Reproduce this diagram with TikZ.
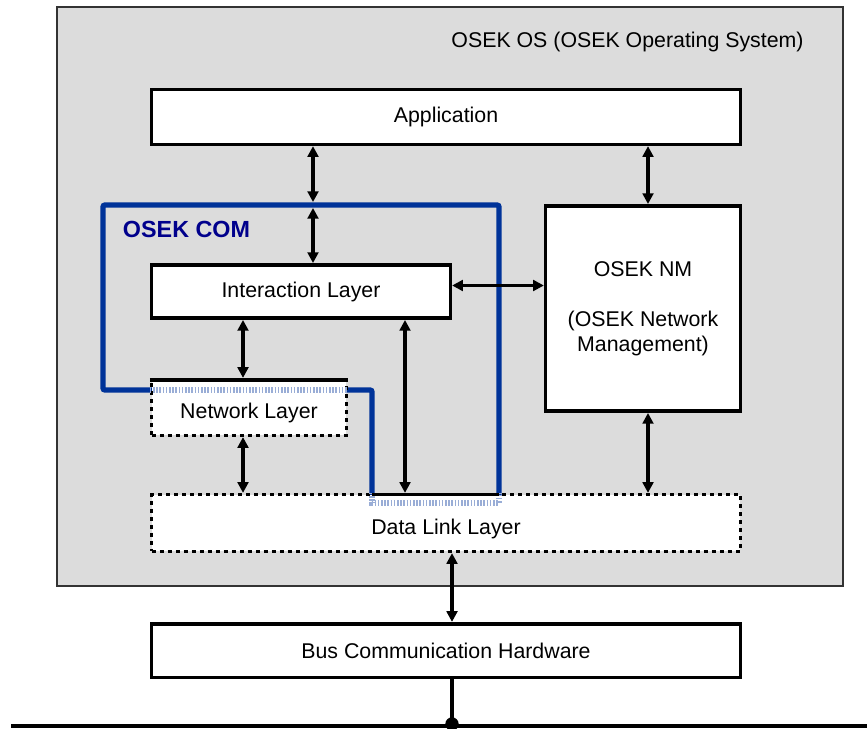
\documentclass[tikz,border=0pt]{standalone}
\usepackage{fontspec}
\setmainfont{Liberation Sans}
\usetikzlibrary{arrows.meta}
\definecolor{osgray}{RGB}{220,220,220}
\definecolor{comblue}{RGB}{0,51,153}
\definecolor{comtext}{RGB}{0,0,140}

\begin{document}
\begin{tikzpicture}[x=0.75pt, y=-0.75pt,
    box/.style={draw, line width=2.7pt, fill=white, inner sep=0pt,
    font=\fontsize{16}{18.75}\selectfont},
    dotbox/.style={box, dash pattern=on 3pt off 3pt, text height=20.5pt},
    com/.style={draw=comblue, line width=4pt, rounded corners=1.5pt},
    comfaint/.style={draw=comblue!40, line width=4pt, dash pattern=on 1.2pt off 1.2pt},
    link/.style={line width=2.3pt}, >={Triangle[length=8pt,width=8pt]}]
    \useasboundingbox (0,0) rectangle (867,728);
    \draw[draw=black!80, line width=1.2pt, fill=osgray] (57,7) rectangle (843,586);
    \node[font=\fontsize{16}{18.75}\selectfont] (OS) at (627.5,42) {OSEK OS (OSEK Operating System)};
    \coordinate (comNW) at (103,205);
    \coordinate (comNE) at (499,205);
    \coordinate (comSE) at (499,503);
    \coordinate (comS) at (372,503);
    \coordinate (comM) at (372,390);
    \coordinate (comW) at (103,390);
    \coordinate (COMtop) at (313,205);
    \draw[com] (comNW) -- (comNE) -- (comSE) -- (comS) -- (comM) -- (comW) -- cycle;
    \node[font=\fontsize{17.5}{20}\selectfont\bfseries, text=comtext] (COM) at (186.5,229) {OSEK COM};
    \node[box, minimum width=441.5pt, minimum height=41pt] (App) at (446,117) {Application};
    \node[box, minimum width=224pt, minimum height=40pt] (IL) at (301,291.5) {Interaction Layer};
    \node[box, minimum width=146pt, minimum height=154pt, align=center] (NM) at (643,308.5)
        {OSEK NM\\[18.75pt](OSEK Network\\Management)};
    \node[dotbox, minimum width=146pt, minimum height=41.7pt] (NL) at (249,407.5) {Network Layer};
    \node[dotbox, minimum width=441.5pt, minimum height=42.5pt] (DLL) at (446,523) {Data Link Layer};
    \node[box, minimum width=441.5pt, minimum height=40.2pt] (HW) at (446,650.5) {Bus Communication Hardware};
    \draw[comfaint] (NL.west |- comW) -- (NL.east |- comW);
    \draw[comfaint] (DLL.north -| comS) -- (comS) -- (comSE) -- (DLL.north -| comSE);
    \draw[line width=2.7pt] ([yshift=-1.35pt]NL.north west) -- ([yshift=-1.35pt]NL.north east);
    \draw[line width=2.7pt] ([yshift=-1.35pt]DLL.north -| comS) -- ([yshift=-1.35pt]DLL.north -| comSE);
    \draw[link,<->] (App.south -| COMtop) -- ([yshift=2.2pt]COMtop);
    \draw[link,<->] ([yshift=-2.2pt]COMtop) -- (IL.north -| COMtop);
    \draw[link,<->] ([xshift=3.75pt]NM.north |- App.south) -- ([xshift=3.75pt]NM.north);
    \draw[link,<->] ([yshift=4.5pt]IL.east) -- ([yshift=4.5pt]IL.east -| NM.west);
    \draw[link,<->] ([xshift=-4.5pt]NL.north |- IL.south) -- ([xshift=-4.5pt]NL.north);
    \draw[link,<->] ([xshift=-4.5pt]NL.south) -- ([xshift=-4.5pt]NL.south |- DLL.north);
    \draw[link,<->] ([xshift=78pt]IL.south) -- ([xshift=78pt]IL.south |- DLL.north);
    \draw[link,<->] ([xshift=3.75pt]NM.south) -- ([xshift=3.75pt]NM.south |- DLL.north);
    \draw[link,<->] ([xshift=4.5pt]DLL.south) -- ([xshift=4.5pt]DLL.south |- HW.north);
    \coordinate (busL) at (11,725.5);
    \coordinate (busR) at (867,725.5);
    \coordinate (tap) at (452,724);
    \draw[line width=3pt] (busL) -- (busR);
    \draw[link] ([xshift=4.5pt]HW.south) -- (tap);
    \fill (tap) circle (5pt);
\end{tikzpicture}
\end{document}
